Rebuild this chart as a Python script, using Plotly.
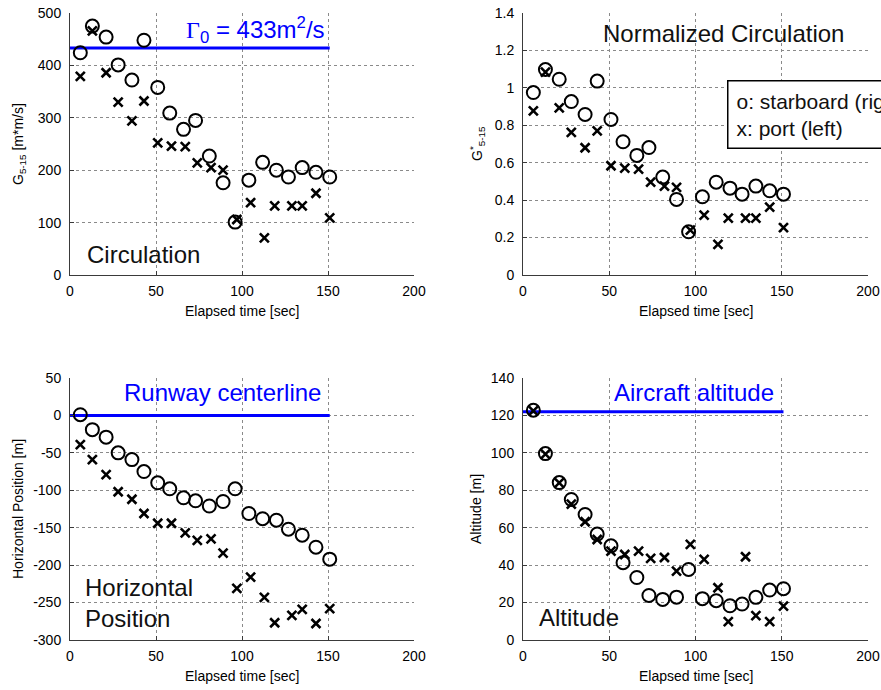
import plotly.graph_objects as go

# ---------------- data ----------------
t_star = [6, 13, 21, 28, 36, 43, 51, 58, 66, 73, 81, 89, 96, 104, 112, 120, 127, 135, 143, 151]
t_port = [6, 13, 21, 28, 36, 43, 51, 59, 67, 74, 82, 89, 97, 105, 113, 119, 129, 135, 143, 151]

circ_star = [424, 475, 454, 401, 372, 448, 358, 309, 278, 295, 227, 176, 101, 181, 215, 200, 187, 205, 196, 187]
circ_port = [379, 466, 386, 330, 294, 332, 252, 246, 245, 214, 205, 200, 106, 138, 71, 132, 132, 132, 156, 109]

norm_star = [0.975, 1.098, 1.046, 0.927, 0.858, 1.036, 0.831, 0.712, 0.639, 0.681,
             0.523, 0.404, 0.231, 0.418, 0.496, 0.464, 0.432, 0.475, 0.450, 0.432]
norm_port = [0.877, 1.084, 0.893, 0.762, 0.680, 0.770, 0.584, 0.571, 0.566, 0.496,
             0.475, 0.468, 0.240, 0.320, 0.164, 0.304, 0.304, 0.304, 0.363, 0.253]

hpos_star = [1, -19, -29, -50, -59, -75, -90, -98, -110, -114, -121, -115, -98, -131, -138, -140, -152, -160, -176, -192]
hpos_port = [-39, -59, -79, -102, -112, -131, -144, -144, -157, -167, -165, -184, -231, -216, -243, -277, -267, -259, -278, -258]

alt_star = [122.8, 99.6, 84.1, 75.1, 67.1, 56.6, 50.3, 41.3, 33.4, 23.8, 21.7, 22.9, 37.7, 22.1, 21.0, 18.3, 19.2, 22.8, 26.7, 27.4]
alt_port = [122.4, 99.3, 84.0, 72.6, 63.2, 53.7, 47.5, 45.7, 47.5, 43.6, 44.1, 36.8, 51.1, 43.1, 27.9, 9.8, 44.5, 13.0, 9.8, 18.1]

ref_line_t = [0, 151]
gamma0 = 433
runway_y = 0
aircraft_alt = 122

x_ticks = [0, 50, 100, 150, 200]
y1_ticks = [0, 100, 200, 300, 400, 500]
y2_ticks = [0, 0.2, 0.4, 0.6, 0.8, 1, 1.2, 1.4]
y2_labels = ["0", "0.2", "0.4", "0.6", "0.8", "1", "1.2", "1.4"]
y3_ticks = [-300, -250, -200, -150, -100, -50, 0, 50]
y3_labels = ["-300", "-250", "-200", "-150", "-100", "-50", "0", "50"]
y4_ticks = [0, 20, 40, 60, 80, 100, 120, 140]

# ---------------- figure ----------------
W, H = 881, 690
FONT = "Liberation Sans, Arial, Helvetica, sans-serif"
BLUE = "#0000FF"

# plot area pixel boxes (left, right, top, bottom)
boxes = {
    1: (70, 414, 13, 275),
    2: (523, 868, 13, 275),
    3: (70, 414, 378, 640),
    4: (523, 868, 378, 640),
}

fig = go.Figure()

star_marker = dict(symbol="circle-open", size=13, color="black", line=dict(width=2, color="black"))
port_marker = dict(symbol="x-thin-open", size=9, color="black", line=dict(width=2.6, color="black"))

panels = [
    (1, circ_star, circ_port, gamma0),
    (2, norm_star, norm_port, None),
    (3, hpos_star, hpos_port, runway_y),
    (4, alt_star, alt_port, aircraft_alt),
]
for idx, ys, yp, ref in panels:
    xa = "x" if idx == 1 else f"x{idx}"
    ya = "y" if idx == 1 else f"y{idx}"
    if ref is not None:
        fig.add_trace(go.Scatter(x=ref_line_t, y=[ref, ref], mode="lines",
                                 line=dict(color=BLUE, width=3), xaxis=xa, yaxis=ya,
                                 showlegend=False, hoverinfo="skip"))
    fig.add_trace(go.Scatter(x=t_port, y=yp, mode="markers", marker=port_marker,
                             xaxis=xa, yaxis=ya, showlegend=False))
    fig.add_trace(go.Scatter(x=t_star, y=ys, mode="markers", marker=star_marker,
                             xaxis=xa, yaxis=ya, showlegend=False))

axis_common = dict(
    showgrid=True, gridcolor="#8a8a8a", griddash="dot", gridwidth=1,
    showline=True, linecolor="#3a3a3a", linewidth=1,
    ticks="inside", ticklen=4, tickcolor="#3a3a3a",
    zeroline=False, tickfont=dict(family=FONT, size=14, color="#000"),
    automargin=False, mirror=False, fixedrange=True,
)

y_specs = {
    1: dict(range=[0, 500], tickvals=y1_ticks),
    2: dict(range=[0, 1.4], tickvals=y2_ticks, ticktext=y2_labels),
    3: dict(range=[-300, 50], tickvals=y3_ticks, ticktext=y3_labels),
    4: dict(range=[0, 140], tickvals=y4_ticks),
}

layout = dict(width=W, height=H, margin=dict(l=0, r=0, t=0, b=0),
              paper_bgcolor="white", plot_bgcolor="white", showlegend=False,
              font=dict(family=FONT, size=14, color="#000"))
for idx, (l, r, t, b) in boxes.items():
    sfx = "" if idx == 1 else str(idx)
    layout["xaxis" + sfx] = dict(axis_common, domain=[l / W, r / W], range=[0, 200],
                                 tickvals=x_ticks, anchor="y" + sfx, ticklabelstandoff=3)
    layout["yaxis" + sfx] = dict(axis_common, domain=[1 - b / H, 1 - t / H],
                                 anchor="x" + sfx, ticklabelstandoff=5, **y_specs[idx])
fig.update_layout(**layout)

ann = []
# x-axis titles
for idx in boxes:
    sfx = "" if idx == 1 else str(idx)
    ann.append(dict(text="Elapsed time [sec]", xref=f"x{sfx} domain", yref=f"y{sfx} domain",
                    x=0.5, y=0, yanchor="middle", yshift=-36, showarrow=False,
                    font=dict(family=FONT, size=14, color="#000")))
# y-axis titles
ytitles = {
    1: ("G<sub>5-15</sub> [m*m/s]", 19),
    2: ("G<sup>*</sup><sub>5-15</sub>", 477),
    3: ("Horizontal Position [m]", 18),
    4: ("Altitude [m]", 476),
}
for idx, (txt, px) in ytitles.items():
    l, r, t, b = boxes[idx]
    ann.append(dict(text=txt, xref="paper", yref="paper", x=px / W, y=1 - (t + b) / 2 / H,
                    xanchor="center", yanchor="middle", textangle=-90, showarrow=False,
                    font=dict(family=FONT, size=14, color="#000")))

big = dict(family=FONT, size=24, color="#111")
bigblue = dict(family=FONT, size=24, color=BLUE)
ann += [
    dict(text="<span style='font-family:Liberation Serif, Times New Roman, serif'>Γ</span><sub>0</sub> = 433m<sup>2</sup>/s",
         xref="x", yref="y", x=66, y=467, xanchor="left", yanchor="middle",
         showarrow=False, font=bigblue),
    dict(text="Circulation", xref="x", yref="y", x=8.5, y=40, xanchor="left", yanchor="middle",
         showarrow=False, font=big),
    dict(text="Normalized Circulation", xref="x2", yref="y2", x=45, y=1.288, xanchor="left",
         yanchor="middle", showarrow=False, font=big),
    dict(text="Runway centerline", xref="x3", yref="y3", x=30, y=31, xanchor="left",
         yanchor="middle", showarrow=False, font=bigblue),
    dict(text="Horizontal<br>Position", xref="x3", yref="y3", x=7.5, y=-251, xanchor="left",
         yanchor="middle", align="left", showarrow=False, font=big),
    dict(text="Aircraft altitude", xref="x4", yref="y4", x=51.5, y=132.5, xanchor="left",
         yanchor="middle", showarrow=False, font=bigblue),
    dict(text="Altitude", xref="x4", yref="y4", x=8, y=11.8, xanchor="left",
         yanchor="middle", showarrow=False, font=big),
    dict(text="o: starboard (right)<br>x: port (left)", xref="paper", yref="paper",
         x=727 / W, y=1 - 80 / H, xanchor="left", yanchor="top", align="left",
         showarrow=False, bgcolor="white", bordercolor="black", borderwidth=1.5,
         borderpad=8, font=dict(family=FONT, size=21, color="#111")),
]
fig.update_layout(annotations=ann)

fig.write_html(
    "out.html",
    config={"displayModeBar": False, "staticPlot": True},
    post_script="document.body.style.margin='0px';document.body.style.overflow='hidden';",
)
